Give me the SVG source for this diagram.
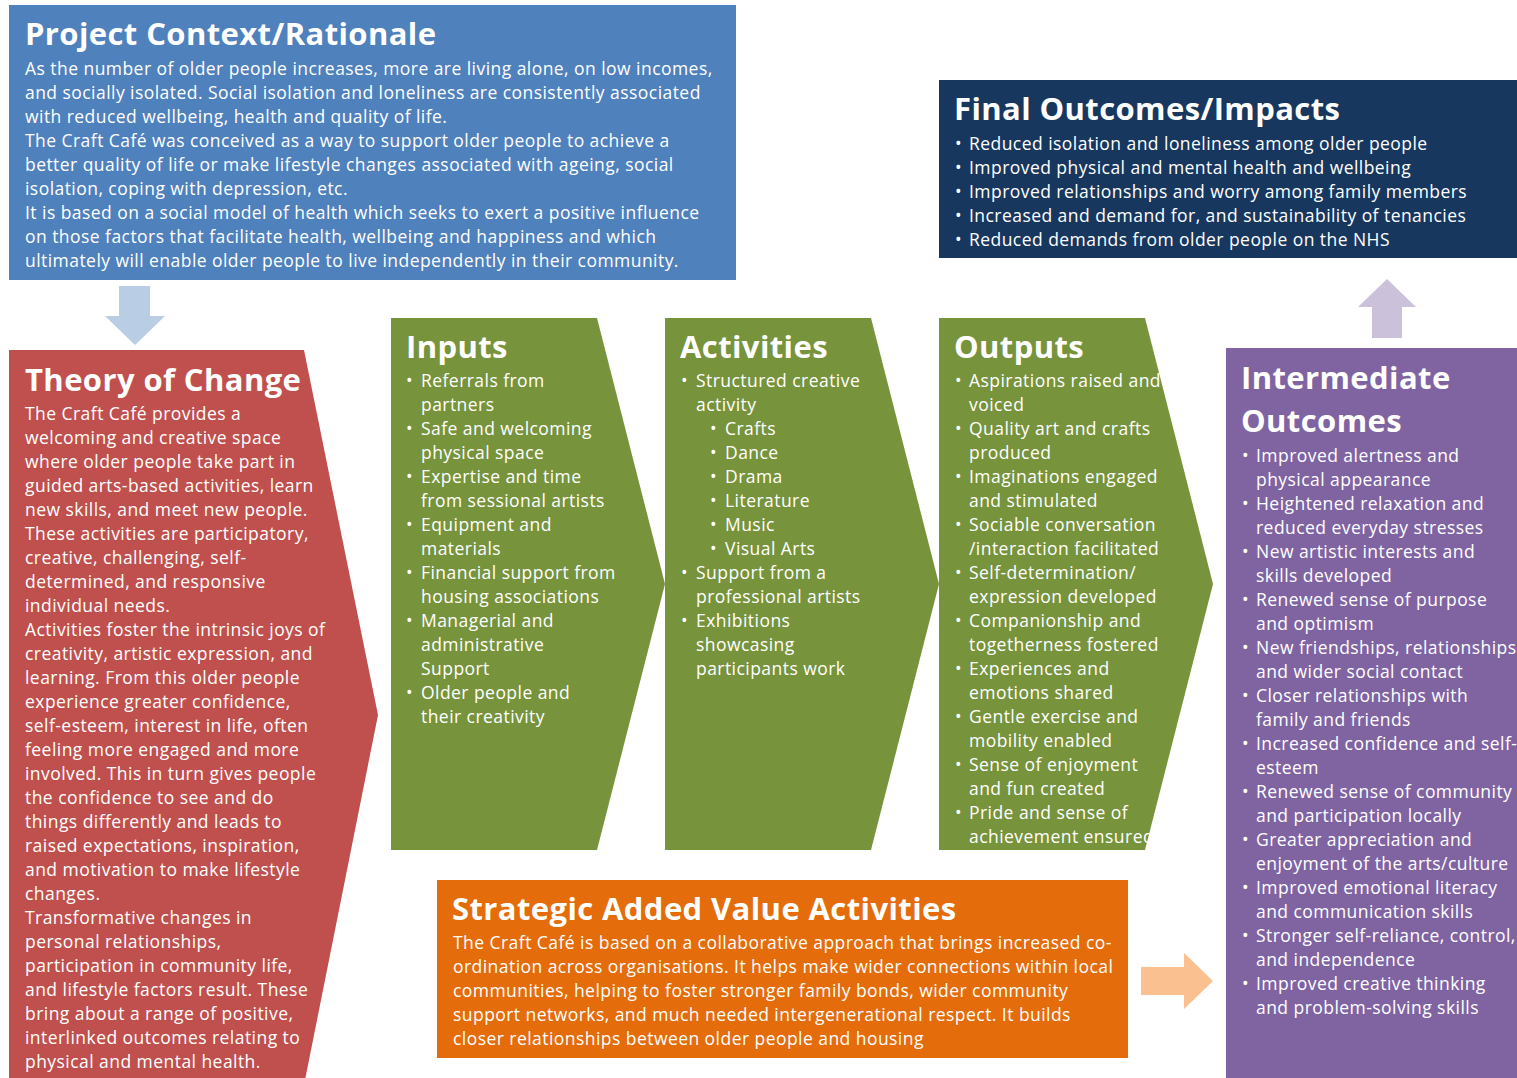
<svg xmlns="http://www.w3.org/2000/svg" width="1517" height="1078" viewBox="0 0 1517 1078">
  <style>
    .t { font-family: "Open Sans", "Liberation Sans", sans-serif; fill: #ffffff; }
    .h { font-size: 31px; font-weight: 700; letter-spacing: 0.4px; }
    .b { font-size: 17.5px; letter-spacing: 0.45px; }
  </style>
  <rect width="1517" height="1078" fill="#ffffff"/>

  <!-- block arrows between the panels -->
  <g id="connectors">
    <polygon points="119,286 150,286 150,316 165,316 135,345 105,316 119,316" fill="#B9CDE5"/>
    <polygon points="1372,338 1402,338 1402,307 1416,307 1387,279 1358,307 1372,307" fill="#CCC1DA"/>
    <polygon points="1141,967 1184,967 1184,953 1213,981 1184,1009 1184,995 1141,995" fill="#FAC090"/>
  </g>

  <g id="context">
    <rect x="9" y="5" width="727" height="275" fill="#4F81BD"/>
    <text class="t h" x="25" y="45">Project Context/Rationale</text>
    <text class="t b">
      <tspan x="25" y="75">As the number of older people increases, more are living alone, on low incomes,</tspan>
      <tspan x="25" y="99">and socially isolated. Social isolation and loneliness are consistently associated</tspan>
      <tspan x="25" y="123">with reduced wellbeing, health and quality of life.</tspan>
      <tspan x="25" y="147">The Craft Café was conceived as a way to support older people to achieve a</tspan>
      <tspan x="25" y="171">better quality of life or make lifestyle changes associated with ageing, social</tspan>
      <tspan x="25" y="195">isolation, coping with depression, etc.</tspan>
      <tspan x="25" y="219">It is based on a social model of health which seeks to exert a positive influence</tspan>
      <tspan x="25" y="243">on those factors that facilitate health, wellbeing and happiness and which</tspan>
      <tspan x="25" y="267">ultimately will enable older people to live independently in their community.</tspan>
    </text>
  </g>

  <g id="theory">
    <polygon points="9,350 304,350 378,715 305,1080 9,1080" fill="#C0504D"/>
    <text class="t h" x="25" y="391">Theory of Change</text>
    <text class="t b">
      <tspan x="25" y="420">The Craft Café provides a</tspan>
      <tspan x="25" y="444">welcoming and creative space</tspan>
      <tspan x="25" y="468">where older people take part in</tspan>
      <tspan x="25" y="492">guided arts-based activities, learn</tspan>
      <tspan x="25" y="516">new skills, and meet new people.</tspan>
      <tspan x="25" y="540">These activities are participatory,</tspan>
      <tspan x="25" y="564">creative, challenging, self-</tspan>
      <tspan x="25" y="588">determined, and responsive</tspan>
      <tspan x="25" y="612">individual needs.</tspan>
      <tspan x="25" y="636">Activities foster the intrinsic joys of</tspan>
      <tspan x="25" y="660">creativity, artistic expression, and</tspan>
      <tspan x="25" y="684">learning. From this older people</tspan>
      <tspan x="25" y="708">experience greater confidence,</tspan>
      <tspan x="25" y="732">self-esteem, interest in life, often</tspan>
      <tspan x="25" y="756">feeling more engaged and more</tspan>
      <tspan x="25" y="780">involved. This in turn gives people</tspan>
      <tspan x="25" y="804">the confidence to see and do</tspan>
      <tspan x="25" y="828">things differently and leads to</tspan>
      <tspan x="25" y="852">raised expectations, inspiration,</tspan>
      <tspan x="25" y="876">and motivation to make lifestyle</tspan>
      <tspan x="25" y="900">changes.</tspan>
      <tspan x="25" y="924">Transformative changes in</tspan>
      <tspan x="25" y="948">personal relationships,</tspan>
      <tspan x="25" y="972">participation in community life,</tspan>
      <tspan x="25" y="996">and lifestyle factors result. These</tspan>
      <tspan x="25" y="1020">bring about a range of positive,</tspan>
      <tspan x="25" y="1044">interlinked outcomes relating to</tspan>
      <tspan x="25" y="1068">physical and mental health.</tspan>
    </text>
  </g>

  <g id="inputs">
    <polygon points="391,318 597,318 665,584 597,850 391,850" fill="#77933C"/>
    <text class="t h" x="406" y="358">Inputs</text>
    <text class="t b">
      <tspan x="406" y="387">•</tspan><tspan x="421" y="387">Referrals from</tspan>
      <tspan x="421" y="411">partners</tspan>
      <tspan x="406" y="435">•</tspan><tspan x="421" y="435">Safe and welcoming</tspan>
      <tspan x="421" y="459">physical space</tspan>
      <tspan x="406" y="483">•</tspan><tspan x="421" y="483">Expertise and time</tspan>
      <tspan x="421" y="507">from sessional artists</tspan>
      <tspan x="406" y="531">•</tspan><tspan x="421" y="531">Equipment and</tspan>
      <tspan x="421" y="555">materials</tspan>
      <tspan x="406" y="579">•</tspan><tspan x="421" y="579">Financial support from</tspan>
      <tspan x="421" y="603">housing associations</tspan>
      <tspan x="406" y="627">•</tspan><tspan x="421" y="627">Managerial and</tspan>
      <tspan x="421" y="651">administrative</tspan>
      <tspan x="421" y="675">Support</tspan>
      <tspan x="406" y="699">•</tspan><tspan x="421" y="699">Older people and</tspan>
      <tspan x="421" y="723">their creativity</tspan>
    </text>
  </g>

  <g id="activities">
    <polygon points="665,318 871,318 939,584 871,850 665,850" fill="#77933C"/>
    <text class="t h" x="680" y="358">Activities</text>
    <text class="t b">
      <tspan x="681" y="387">•</tspan><tspan x="696" y="387">Structured creative</tspan>
      <tspan x="696" y="411">activity</tspan>
      <tspan x="710" y="435">•</tspan><tspan x="725" y="435">Crafts</tspan>
      <tspan x="710" y="459">•</tspan><tspan x="725" y="459">Dance</tspan>
      <tspan x="710" y="483">•</tspan><tspan x="725" y="483">Drama</tspan>
      <tspan x="710" y="507">•</tspan><tspan x="725" y="507">Literature</tspan>
      <tspan x="710" y="531">•</tspan><tspan x="725" y="531">Music</tspan>
      <tspan x="710" y="555">•</tspan><tspan x="725" y="555">Visual Arts</tspan>
      <tspan x="681" y="579">•</tspan><tspan x="696" y="579">Support from a</tspan>
      <tspan x="696" y="603">professional artists</tspan>
      <tspan x="681" y="627">•</tspan><tspan x="696" y="627">Exhibitions</tspan>
      <tspan x="696" y="651">showcasing</tspan>
      <tspan x="696" y="675">participants work</tspan>
    </text>
  </g>

  <g id="outputs">
    <polygon points="939,318 1145,318 1213,584 1145,850 939,850" fill="#77933C"/>
    <text class="t h" x="954" y="358">Outputs</text>
    <text class="t b">
      <tspan x="955" y="387">•</tspan><tspan x="969" y="387">Aspirations raised and</tspan>
      <tspan x="969" y="411">voiced</tspan>
      <tspan x="955" y="435">•</tspan><tspan x="969" y="435">Quality art and crafts</tspan>
      <tspan x="969" y="459">produced</tspan>
      <tspan x="955" y="483">•</tspan><tspan x="969" y="483">Imaginations engaged</tspan>
      <tspan x="969" y="507">and stimulated</tspan>
      <tspan x="955" y="531">•</tspan><tspan x="969" y="531">Sociable conversation</tspan>
      <tspan x="969" y="555">/interaction facilitated</tspan>
      <tspan x="955" y="579">•</tspan><tspan x="969" y="579">Self-determination/</tspan>
      <tspan x="969" y="603">expression developed</tspan>
      <tspan x="955" y="627">•</tspan><tspan x="969" y="627">Companionship and</tspan>
      <tspan x="969" y="651">togetherness fostered</tspan>
      <tspan x="955" y="675">•</tspan><tspan x="969" y="675">Experiences and</tspan>
      <tspan x="969" y="699">emotions shared</tspan>
      <tspan x="955" y="723">•</tspan><tspan x="969" y="723">Gentle exercise and</tspan>
      <tspan x="969" y="747">mobility enabled</tspan>
      <tspan x="955" y="771">•</tspan><tspan x="969" y="771">Sense of enjoyment</tspan>
      <tspan x="969" y="795">and fun created</tspan>
      <tspan x="955" y="819">•</tspan><tspan x="969" y="819">Pride and sense of</tspan>
      <tspan x="969" y="843">achievement ensured</tspan>
    </text>
  </g>

  <g id="final">
    <rect x="939" y="80" width="578" height="178" fill="#17375E"/>
    <text class="t h" x="954" y="120">Final Outcomes/Impacts</text>
    <text class="t b">
      <tspan x="955" y="150">•</tspan><tspan x="969" y="150">Reduced isolation and loneliness among older people</tspan>
      <tspan x="955" y="174">•</tspan><tspan x="969" y="174">Improved physical and mental health and wellbeing</tspan>
      <tspan x="955" y="198">•</tspan><tspan x="969" y="198">Improved relationships and worry among family members</tspan>
      <tspan x="955" y="222">•</tspan><tspan x="969" y="222">Increased and demand for, and sustainability of tenancies</tspan>
      <tspan x="955" y="246">•</tspan><tspan x="969" y="246">Reduced demands from older people on the NHS</tspan>
    </text>
  </g>

  <g id="intermediate">
    <rect x="1226" y="348" width="291" height="730" fill="#8064A2"/>
    <text class="t h">
      <tspan x="1241" y="389">Intermediate</tspan>
      <tspan x="1241" y="432">Outcomes</tspan>
    </text>
    <text class="t b">
      <tspan x="1242" y="462">•</tspan><tspan x="1256" y="462">Improved alertness and</tspan>
      <tspan x="1256" y="486">physical appearance</tspan>
      <tspan x="1242" y="510">•</tspan><tspan x="1256" y="510">Heightened relaxation and</tspan>
      <tspan x="1256" y="534">reduced everyday stresses</tspan>
      <tspan x="1242" y="558">•</tspan><tspan x="1256" y="558">New artistic interests and</tspan>
      <tspan x="1256" y="582">skills developed</tspan>
      <tspan x="1242" y="606">•</tspan><tspan x="1256" y="606">Renewed sense of purpose</tspan>
      <tspan x="1256" y="630">and optimism</tspan>
      <tspan x="1242" y="654">•</tspan><tspan x="1256" y="654">New friendships, relationships</tspan>
      <tspan x="1256" y="678">and wider social contact</tspan>
      <tspan x="1242" y="702">•</tspan><tspan x="1256" y="702">Closer relationships with</tspan>
      <tspan x="1256" y="726">family and friends</tspan>
      <tspan x="1242" y="750">•</tspan><tspan x="1256" y="750">Increased confidence and self-</tspan>
      <tspan x="1256" y="774">esteem</tspan>
      <tspan x="1242" y="798">•</tspan><tspan x="1256" y="798">Renewed sense of community</tspan>
      <tspan x="1256" y="822">and participation locally</tspan>
      <tspan x="1242" y="846">•</tspan><tspan x="1256" y="846">Greater appreciation and</tspan>
      <tspan x="1256" y="870">enjoyment of the arts/culture</tspan>
      <tspan x="1242" y="894">•</tspan><tspan x="1256" y="894">Improved emotional literacy</tspan>
      <tspan x="1256" y="918">and communication skills</tspan>
      <tspan x="1242" y="942">•</tspan><tspan x="1256" y="942">Stronger self-reliance, control,</tspan>
      <tspan x="1256" y="966">and independence</tspan>
      <tspan x="1242" y="990">•</tspan><tspan x="1256" y="990">Improved creative thinking</tspan>
      <tspan x="1256" y="1014">and problem-solving skills</tspan>
    </text>
  </g>

  <g id="strategic">
    <rect x="437" y="880" width="691" height="178" fill="#E46C0A"/>
    <text class="t h" x="452" y="920">Strategic Added Value Activities</text>
    <text class="t b">
      <tspan x="453" y="949">The Craft Café is based on a collaborative approach that brings increased co-</tspan>
      <tspan x="453" y="973">ordination across organisations. It helps make wider connections within local</tspan>
      <tspan x="453" y="997">communities, helping to foster stronger family bonds, wider community</tspan>
      <tspan x="453" y="1021">support networks, and much needed intergenerational respect. It builds</tspan>
      <tspan x="453" y="1045">closer relationships between older people and housing</tspan>
    </text>
  </g>
</svg>
